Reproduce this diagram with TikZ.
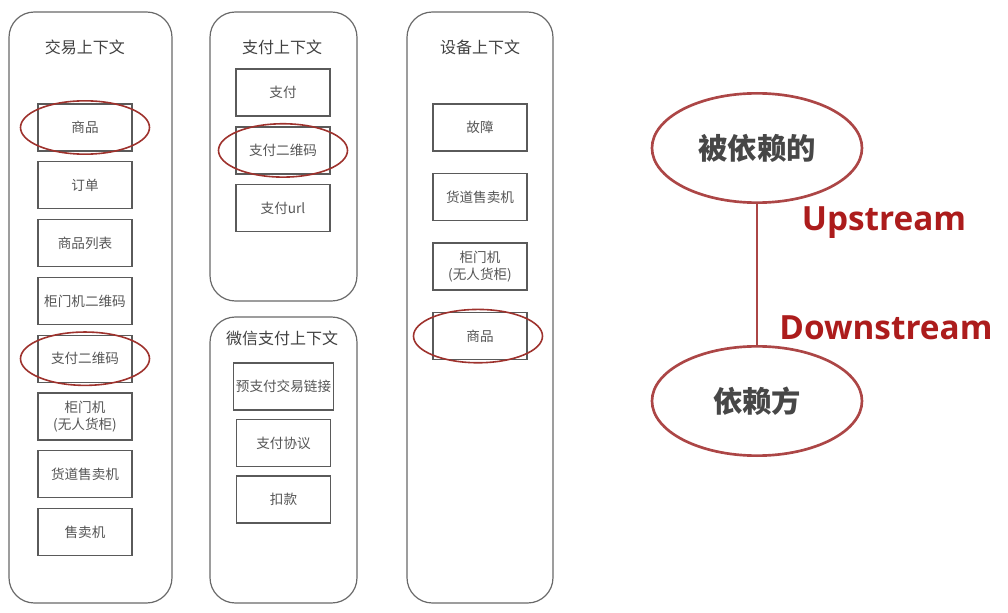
\documentclass[tikz,border=0pt]{standalone}
\usepackage{fontspec}
\setmainfont{Noto Sans CJK SC}
\newfontfamily\enbold{Open Sans}
\usepackage{xcolor}
\usepackage{tikz}
\usetikzlibrary{shapes.geometric, positioning}
\definecolor{framegray}{RGB}{105,105,105}
\definecolor{boxgray}{RGB}{90,90,90}
\definecolor{textgray}{RGB}{85,85,85}
\definecolor{ringred}{RGB}{158,50,45}
\definecolor{depred}{RGB}{172,70,70}
\definecolor{streamred}{RGB}{172,28,28}
\tikzstyle{ctx} = [draw=framegray, line width=0.9pt, rectangle, rounded corners=19pt, inner sep=0pt]
\tikzstyle{title} = [font=\fontsize{12}{14}\selectfont, text=black!75]
\tikzstyle{item} = [draw=boxgray, line width=0.9pt, rectangle, minimum width=70.5pt, minimum height=35.25pt, inner sep=2pt, align=center, font=\fontsize{10.2}{12.6}\selectfont, text=textgray]
\tikzstyle{ring} = [draw=ringred, line width=1.2pt, ellipse, minimum width=96.75pt, minimum height=40pt, inner sep=0pt]
\tikzstyle{dep} = [draw=depred, line width=2pt, ellipse, minimum width=157.5pt, minimum height=82pt, font=\fontsize{22}{24}\selectfont\bfseries, text=black!72]
\tikzstyle{stream} = [font=\enbold\fontsize{25}{28}\selectfont\bfseries, text=streamred]

\begin{document}
\begin{tikzpicture}[x=0.75pt, y=-0.75pt]
    \useasboundingbox (0,0) rectangle (1008,613);
    % context frames
    \node[ctx, minimum width=122.25pt, minimum height=443.25pt] (trade) at (90.5,307.5) {};
    \node[ctx, minimum width=110.25pt, minimum height=216.75pt] (pay) at (283.5,156.5) {};
    \node[ctx, minimum width=110.25pt, minimum height=214.5pt] (wechat) at (283.5,460) {};
    \node[ctx, minimum width=109.5pt, minimum height=443.25pt] (device) at (480,307.5) {};
    \node[title] (tradetitle) at (85,47) {交易上下文};
    \node[title] (paytitle) at (282,47) {支付上下文};
    \node[title] (wechattitle) at (282,338) {微信支付上下文};
    \node[title] (devicetitle) at (480,47) {设备上下文};

    \node[item] (goods) at (85,127.5) {商品};
    \node[item, below=7.2pt of goods] (order) {订单};
    \node[item, below=7.2pt of order] (goodslist) {商品列表};
    \node[item, below=7.2pt of goodslist] (cabqr) {柜门机二维码};
    \node[item, below=7.2pt of cabqr] (payqr) {支付二维码};
    \node[item, below=7.2pt of payqr] (cabinet) {柜门机\\(无人货柜)};
    \node[item, below=7.2pt of cabinet] (lanevend) {货道售卖机};
    \node[item, below=7.2pt of lanevend] (vendor) {售卖机};

    \node[item] (payment) at (283,92.5) {支付};
    \node[item, below=7.3pt of payment] (payqrb) {支付二维码};
    \node[item, below=7.3pt of payqrb] (payurl) {支付url};

    \node[item] (prepay) at (283.5,386.5) {预支付交易链接};
    \node[item, below=6.2pt of prepay] (protocol) {支付协议};
    \node[item, below=6.2pt of protocol] (deduct) {扣款};

    \node[item] (fault) at (480,127.5) {故障};
    \node[item, below=16pt of fault] (lanevendb) {货道售卖机};
    \node[item, below=16pt of lanevendb] (cabinetb) {柜门机\\(无人货柜)};
    \node[item, below=16pt of cabinetb] (goodsb) {商品};

    % shared concepts
    \node[ring] (ringgoods) at (goods.center) {};
    \node[ring] (ringpayqr) at (payqr.center) {};
    \node[ring] (ringpayqrb) at (payqrb.center) {};
    \node[ring] (ringgoodsb) at ([xshift=-1.5pt]goodsb.center) {};

    % upstream / downstream
    \node[dep] (upside) at (757,148) {被依赖的};
    \node[dep] (downside) at (757,401) {依赖方};
    \draw[draw=depred, line width=1.6pt] (upside) -- (downside);
    \node[stream] (uplabel) at (884,223) {Upstream};
    \node[stream] (downlabel) at (886,328) {Downstream};
\end{tikzpicture}
\end{document}
